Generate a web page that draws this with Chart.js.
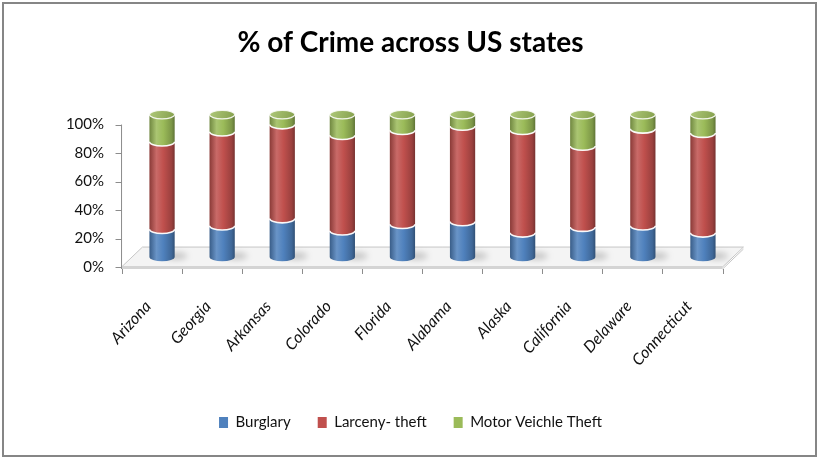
<!DOCTYPE html>
<html>
<head>
<meta charset="utf-8">
<title>% of Crime across US states</title>
<script src="https://cdn.jsdelivr.net/npm/chart.js@4.4.0/dist/chart.umd.min.js"></script>
<style>
  html, body { margin: 0; padding: 0; background: #fff; }
  #wrap { position: relative; width: 819px; height: 460px; }
  #frame { position: absolute; left: 2px; top: 2px; width: 811px; height: 451px;
           border: 2px solid #868686; pointer-events: none; }
</style>
</head>
<body>
<div id="wrap">
  <canvas id="crimeChart" width="819" height="460"></canvas>
  <div id="frame"></div>
</div>
<script>
// values, in percent of each state's total
const states = ['Arizona', 'Georgia', 'Arkansas', 'Colorado', 'Florida',
                'Alabama', 'Alaska', 'California', 'Delaware', 'Connecticut'];
const burglary   = [19.5, 22, 27, 18.5, 23, 25, 17, 21, 22, 17];
const larceny    = [61.5, 66, 66, 67, 66, 67, 72, 57, 68, 70];
const motorTheft = [19, 12, 7, 14.5, 11, 8, 11, 22, 10, 13];
const yTicks = [0, 20, 40, 60, 80, 100];

const FONT = 'Lato, "Open Sans", sans-serif';
const DEPTH = 7; // front axis sits this many % below the bars' plane

function shade(hex, f) {
  const n = parseInt(hex.slice(1), 16);
  const ch = [n >> 16, (n >> 8) & 255, n & 255].map(v =>
    Math.max(0, Math.min(255, Math.round(f >= 1 ? v + (255 - v) * (f - 1) : v * f))));
  return `rgb(${ch[0]},${ch[1]},${ch[2]})`;
}

// floor, axis lines and tick marks of the 3D look
const floorPlugin = {
  id: 'floor',
  beforeDatasetsDraw(chart) {
    const { ctx, chartArea } = chart;
    const y = chart.scales.y, yf = chart.scales.yFront;
    const slot = (chartArea.right - chartArea.left) / states.length;
    const back = y.getPixelForValue(0);
    const front = yf.getPixelForValue(0);
    const dy = front - back;
    const dx = dy * 1.05;
    const L = chartArea.left - dx, R = chartArea.right - dx;

    ctx.save();
    // floor top face
    ctx.beginPath();
    ctx.moveTo(L, front);
    ctx.lineTo(R, front);
    ctx.lineTo(R + 2 * dx, front - 2 * dy);
    ctx.lineTo(L + 2 * dx, front - 2 * dy);
    ctx.closePath();
    ctx.fillStyle = '#f4f4f4';
    ctx.fill();
    ctx.strokeStyle = '#c6c6c6';
    ctx.lineWidth = 1;
    ctx.stroke();
    // front slab edge
    ctx.fillStyle = '#d4d4d4';
    ctx.fillRect(L, front - 1, R - L, 3);
    ctx.beginPath();
    ctx.moveTo(R, front + 2);
    ctx.lineTo(R + 2 * dx, front - 2 * dy + 2);
    ctx.stroke();

    // value axis line and ticks
    ctx.strokeStyle = '#8c8c8c';
    ctx.beginPath();
    ctx.moveTo(L, yf.getPixelForValue(100));
    ctx.lineTo(L, front + 2);
    yTicks.forEach(v => {
      const p = Math.round(yf.getPixelForValue(v)) + 0.5;
      ctx.moveTo(L - 6, p);
      ctx.lineTo(L, p);
    });
    // category ticks along the front edge
    for (let i = 0; i <= states.length; i++) {
      const p = Math.round(L + i * slot) + 0.5;
      ctx.moveTo(p, front + 2);
      ctx.lineTo(p, front + 7);
    }
    ctx.stroke();
    ctx.restore();
  }
};

// stacked bars drawn as shaded cylinders from the library's bar elements
const cylinderPlugin = {
  id: 'cylinders',
  beforeDatasetsDraw(chart) {
    const ctx = chart.ctx;
    const metas = chart.data.datasets.map((d, i) => chart.getDatasetMeta(i))
                       .filter(m => !m.hidden);
    if (!metas.length) return false;

    ctx.save();
    // soft shadow on the floor
    metas[0].data.forEach(bar => {
      const { x, base, width } = bar.getProps(['x', 'base', 'width'], true);
      ctx.save();
      ctx.filter = 'blur(3px)';
      ctx.fillStyle = 'rgba(0,0,0,0.22)';
      ctx.beginPath();
      ctx.ellipse(x + width * 0.55, base - 1, width * 0.45, width * 0.13, 0, 0, Math.PI * 2);
      ctx.fill();
      ctx.restore();
    });

    metas.forEach((meta, k) => {
      const color = chart.data.datasets[meta.index].backgroundColor;
      meta.data.forEach(bar => {
        const { x, y, base, width } = bar.getProps(['x', 'y', 'base', 'width'], true);
        const rx = width / 2, ry = width * 0.17;
        const g = ctx.createLinearGradient(x - rx, 0, x + rx, 0);
        g.addColorStop(0, shade(color, 0.72));
        g.addColorStop(0.28, shade(color, 1.15));
        g.addColorStop(0.55, shade(color, 1.0));
        g.addColorStop(0.88, shade(color, 0.8));
        g.addColorStop(1, shade(color, 0.62));
        ctx.beginPath();
        ctx.moveTo(x - rx, y);
        ctx.ellipse(x, y, rx, ry, 0, Math.PI, 0, true);
        ctx.lineTo(x + rx, base);
        ctx.ellipse(x, base, rx, ry, 0, 0, Math.PI, false);
        ctx.closePath();
        ctx.fillStyle = g;
        ctx.fill();

        if (k > 0) {
          ctx.beginPath();
          ctx.ellipse(x, base, rx, ry, 0, Math.PI, 0, true);
          ctx.strokeStyle = 'rgba(255,255,255,0.95)';
          ctx.lineWidth = 1.6;
          ctx.stroke();
        }
        if (k === metas.length - 1) {
          const cg = ctx.createLinearGradient(x - rx, y - ry, x + rx, y + ry);
          cg.addColorStop(0, shade(color, 1.2));
          cg.addColorStop(1, shade(color, 0.85));
          ctx.beginPath();
          ctx.ellipse(x, y, rx, ry, 0, 0, Math.PI * 2);
          ctx.fillStyle = cg;
          ctx.fill();
          ctx.strokeStyle = 'rgba(255,255,255,0.85)';
          ctx.lineWidth = 1.2;
          ctx.stroke();
        }
      });
    });
    ctx.restore();
    return false;
  }
};

const ctx = document.getElementById('crimeChart').getContext('2d');
new Chart(ctx, {
  type: 'bar',
  data: {
    labels: states,
    datasets: [
      { label: 'Burglary', data: burglary, backgroundColor: '#4F81BD' },
      { label: 'Larceny- theft', data: larceny, backgroundColor: '#C0504D' },
      { label: 'Motor Veichle Theft', data: motorTheft, backgroundColor: '#9BBB59' }
    ]
  },
  options: {
    responsive: false,
    animation: false,
    devicePixelRatio: 1,
    datasets: { bar: { barPercentage: 0.7, categoryPercentage: 0.6, borderWidth: 0 } },
    layout: { padding: { left: 11, right: 9, top: 14, bottom: 20 } },
    plugins: {
      title: {
        display: true,
        text: '% of Crime across US states',
        color: '#000',
        font: { family: FONT, size: 28, weight: 'bold' },
        padding: { top: 12, bottom: 55 }
      },
      legend: {
        position: 'bottom',
        labels: {
          boxWidth: 9, boxHeight: 11, padding: 27,
          color: '#111',
          font: { family: FONT, size: 15 }
        }
      },
      tooltip: { enabled: false }
    },
    scales: {
      x: {
        stacked: true,
        grid: { display: false, drawTicks: false },
        border: { display: false },
        ticks: {
          minRotation: 48, maxRotation: 48, autoSkip: false,
          labelOffset: -14, padding: 30,
          color: '#111',
          font: { family: FONT, size: 16, style: 'italic' }
        },
        afterFit(s) { s.height = 121; }
      },
      y: {
        stacked: true, display: false,
        min: -DEPTH, max: 100
      },
      yFront: {
        position: 'left',
        min: 0, max: 100 + DEPTH,
        grid: { display: false, drawTicks: false },
        border: { display: false },
        afterBuildTicks(s) { s.ticks = yTicks.map(v => ({ value: v })); },
        ticks: {
          padding: 28,
          color: '#111',
          font: { family: FONT, size: 15 },
          callback: v => v + '%'
        },
        afterFit(s) { s.width = 121; }
      },
      yRight: {
        position: 'right',
        min: 0, max: 1,
        grid: { display: false, drawTicks: false },
        border: { display: false },
        ticks: { display: false },
        afterFit(s) { s.width = 77; }
      }
    }
  },
  plugins: [floorPlugin, cylinderPlugin]
});
</script>
</body>
</html>
